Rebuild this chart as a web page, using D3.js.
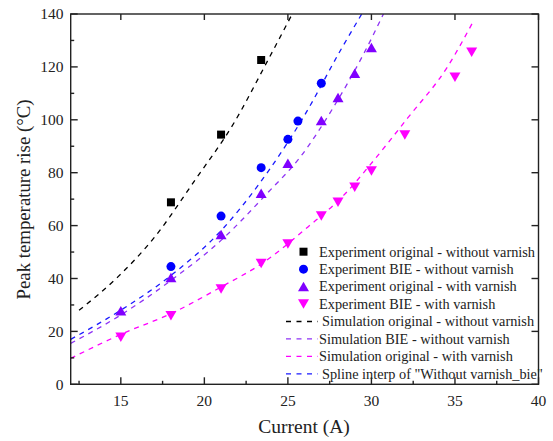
<!DOCTYPE html>
<html><head><meta charset="utf-8">
<script src="https://cdn.jsdelivr.net/npm/d3@7"></script>
<style>body{margin:0;background:#fff}svg{display:block}</style>
</head><body>
<svg id="c" width="553" height="441"></svg>
<script>
// ---- data ----
const xTicks = [15, 20, 25, 30, 35, 40];
const yTicks = [0, 20, 40, 60, 80, 100, 120, 140];

const expOrigNoVarnishX = [18, 21, 23.4];
const expOrigNoVarnishY = [68.8, 94.4, 122.6];
const expBieNoVarnishX = [18, 21, 23.4, 25, 25.6, 27];
const expBieNoVarnishY = [44.5, 63.6, 81.9, 92.6, 99.5, 113.8];
const expOrigVarnishX = [15, 18, 21, 23.4, 25, 27, 28, 29, 30];
const expOrigVarnishY = [27.8, 40.4, 56.6, 72.2, 83.6, 99.7, 108.4, 117.6, 127.3];
const expBieVarnishX = [15, 18, 21, 23.4, 25, 27, 28, 29, 30, 32, 35, 36];
const expBieVarnishY = [17.8, 25.9, 36, 45.7, 53, 63.6, 68.8, 74.5, 80.6, 94.3, 116.1, 125.5];

const simOrigNoVarnishX = [12.5, 14.84, 17.04, 19.44, 21.76, 23.76, 25.26];
const simOrigNoVarnishY = [28, 40.7, 55.8, 77.2, 98.7, 122, 140];
const simBieNoVarnishX = [12, 14.84, 18.03, 21.03, 23.76, 25.75, 27.75, 29.55, 30.72];
const simBieNoVarnishY = [15.5, 25.6, 39.4, 54.6, 72.2, 86, 105, 125.1, 140];
const simOrigVarnishX = [12, 15.04, 18.03, 21.03, 23.43, 26.2, 28.36, 30.16, 32.16, 34.56, 36.12];
const simOrigVarnishY = [9.8, 19, 26.8, 36.9, 45.6, 59.5, 71.6, 84.8, 100.6, 120.1, 137.5];
const splineX = [12, 14.84, 18.03, 21.03, 23.25, 25.95, 28.16, 29.42];
const splineY = [17, 27.4, 41.3, 58.3, 75.5, 101.2, 126.4, 140];

const legendLabels = [
  "Experiment original - without varnish",
  "Experiment BIE - without varnish",
  "Experiment original - with varnish",
  "Experiment BIE - with varnish",
  "Simulation original - without varnish",
  "Simulation BIE - without varnish",
  "Simulation original - with varnish",
  "Spline interp of \"Without varnish_bie\""
];

// ---- layout ----
const L = 70.7, R = 538.5, T = 14, B = 384.3;
const svg = d3.select("#c");
const x = d3.scaleLinear().domain([12, 40]).range([L, R]);
const y = d3.scaleLinear().domain([0, 140]).range([B, T]);
const font = "'Liberation Serif','Times New Roman',serif";
const txt = "#222";

svg.append("defs").append("clipPath").attr("id", "clip")
  .append("rect").attr("x", L).attr("y", T).attr("width", R - L).attr("height", B - T);

const zip = (xs, ys) => xs.map((v, i) => [v, ys[i]]);
const line = d3.line().x(d => x(d[0])).y(d => y(d[1])).curve(d3.curveMonotoneX);

const lines = [
  {d: zip(simOrigNoVarnishX, simOrigNoVarnishY), c: "#000"},
  {d: zip(splineX, splineY), c: "#1a1aff"},
  {d: zip(simBieNoVarnishX, simBieNoVarnishY), c: "#8f33f5"},
  {d: zip(simOrigVarnishX, simOrigVarnishY), c: "#ff00ff"}
];
const gl = svg.append("g").attr("clip-path", "url(#clip)");
lines.forEach(s => gl.append("path").attr("d", line(s.d)).attr("fill", "none")
  .attr("stroke", s.c).attr("stroke-width", 1.3).attr("stroke-dasharray", "5,5"));

// markers
const triUp = (w, h) => `M0,${-h/2}L${w/2},${h/2}L${-w/2},${h/2}Z`;
const triDown = (w, h) => `M0,${h/2}L${w/2},${-h/2}L${-w/2},${-h/2}Z`;
const sq = s => `M${-s/2},${-s/2}h${s}v${s}h${-s}Z`;
const circ = r => `M${r},0A${r},${r} 0 1,1 ${-r},0A${r},${r} 0 1,1 ${r},0Z`;

const series = [
  {d: zip(expOrigNoVarnishX, expOrigNoVarnishY), p: sq(8), c: "#000"},
  {d: zip(expBieNoVarnishX, expBieNoVarnishY), p: circ(4.5), c: "#0000ff"},
  {d: zip(expOrigVarnishX, expOrigVarnishY), p: triUp(11, 9.5), c: "#8000ff"},
  {d: zip(expBieVarnishX, expBieVarnishY), p: triDown(11, 9.5), c: "#ff00ff"}
];
series.forEach(s => svg.append("g").selectAll("path").data(s.d).join("path")
  .attr("transform", d => `translate(${x(d[0])},${y(d[1])})`)
  .attr("d", s.p).attr("fill", s.c));

// axes
const ax = svg.append("g").attr("stroke", "#222").attr("stroke-width", 1.4);
ax.append("rect").attr("x", L).attr("y", T).attr("width", R - L).attr("height", B - T).attr("fill", "none");
const xMinor = d3.range(12.5, 40, 5);
const yMinor = d3.range(10, 140, 20);
xTicks.forEach(v => {
  ax.append("line").attr("x1", x(v)).attr("x2", x(v)).attr("y1", B).attr("y2", B - 7);
  ax.append("line").attr("x1", x(v)).attr("x2", x(v)).attr("y1", T).attr("y2", T + 6);
});
xMinor.forEach(v => ax.append("line").attr("x1", x(v)).attr("x2", x(v)).attr("y1", B).attr("y2", B - 3.5));
yTicks.forEach(v => {
  ax.append("line").attr("x1", L).attr("x2", L + 7).attr("y1", y(v)).attr("y2", y(v));
  ax.append("line").attr("x1", R).attr("x2", R - 7).attr("y1", y(v)).attr("y2", y(v));
});
yMinor.forEach(v => ax.append("line").attr("x1", L).attr("x2", L + 3.5).attr("y1", y(v)).attr("y2", y(v)));

svg.append("g").selectAll("text").data(xTicks).join("text")
  .attr("x", d => x(d)).attr("y", 406).attr("text-anchor", "middle")
  .attr("font-family", font).attr("font-size", 15.5).attr("fill", txt).text(d => d);
svg.append("g").selectAll("text").data(yTicks).join("text")
  .attr("x", 63.5).attr("y", d => y(d) + 5.3).attr("text-anchor", "end")
  .attr("font-family", font).attr("font-size", 15.5).attr("fill", txt).text(d => d);

svg.append("text").attr("x", 304).attr("y", 433).attr("text-anchor", "middle")
  .attr("font-family", font).attr("font-size", 19.5).attr("fill", txt).text("Current (A)");
svg.append("text").attr("transform", "translate(30,199.5) rotate(-90)").attr("text-anchor", "middle")
  .attr("font-family", font).attr("font-size", 18.8).attr("fill", txt).text("Peak temperature rise (°C)");

// legend
const lg = svg.append("g");
const ly0 = 251.7, ldy = 17.45;
series.forEach((s, i) => {
  lg.append("path").attr("transform", `translate(303.5,${ly0 + i * ldy})`).attr("d", s.p).attr("fill", s.c);
});
const legLines = [lines[0], lines[2], lines[3], lines[1]];
legLines.forEach((s, i) => {
  const yy = ly0 + (i + 4) * ldy;
  lg.append("line").attr("x1", 286).attr("x2", 318).attr("y1", yy).attr("y2", yy)
    .attr("stroke", s.c).attr("stroke-width", 1.3).attr("stroke-dasharray", "5,5.5");
});
legendLabels.forEach((t, i) => {
  lg.append("text").attr("x", (i === 4 || i === 7) ? 322 : 319).attr("y", ly0 + i * ldy + 4.8)
    .attr("font-family", font).attr("font-size", 14.3).attr("fill", txt).text(t);
});
</script>
</body></html>
